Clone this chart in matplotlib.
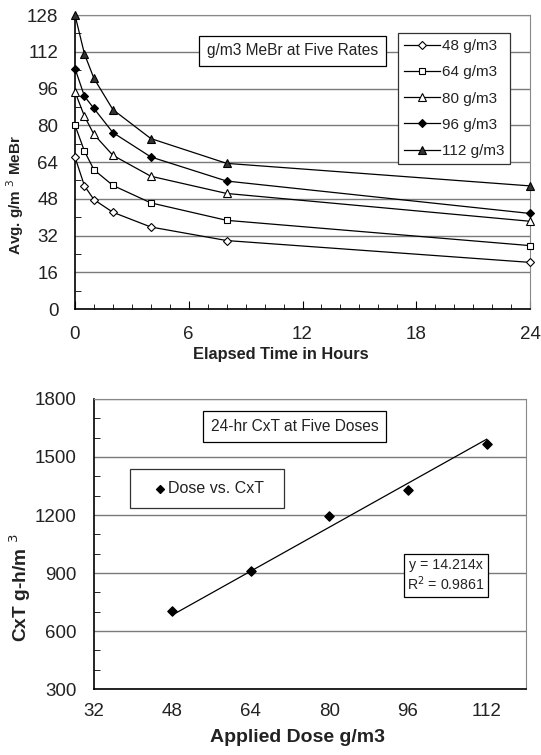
import numpy as np
import matplotlib.pyplot as plt
from matplotlib.ticker import MultipleLocator
from matplotlib.patches import Rectangle

plt.rcParams['font.family'] = ['Liberation Sans', 'DejaVu Sans']

# top chart: concentration over time
hours = [0, 0.5, 1, 2, 4, 8, 24]
rate_labels = ["48 g/m3", "64 g/m3", "80 g/m3", "96 g/m3", "112 g/m3"]
conc_48 = [66.1, 53.6, 47.6, 42.1, 35.7, 29.8, 20.3]
conc_64 = [80.0, 68.7, 60.6, 53.8, 46.2, 38.6, 27.6]
conc_80 = [94.5, 83.9, 76.0, 66.9, 57.8, 50.3, 38.2]
conc_96 = [104.7, 92.6, 87.3, 76.8, 66.2, 55.7, 41.6]
conc_112 = [128.0, 111.0, 100.4, 86.8, 74.2, 63.4, 53.6]

# bottom chart: dose vs CxT
doses = [48, 64, 80, 96, 112]
cxt = [703, 911, 1197, 1331, 1566]
trend_slope = 14.214
trend_r2 = 0.9861

TXT = '#222222'
GRID = '#7a7a7a'

fig = plt.figure(figsize=(5.41, 7.55), dpi=100)

# ---------------- top panel ----------------
ax1 = fig.add_axes([75/541, 1-309/755, 455/541, 294/755])
styles = [dict(marker='D', ms=4.5, mfc='white'),
          dict(marker='s', ms=5, mfc='white'),
          dict(marker='^', ms=6, mfc='white'),
          dict(marker='D', ms=4.5, mfc='black'),
          dict(marker='^', ms=6, mfc='#333333')]
for series, lab, st in zip([conc_48, conc_64, conc_80, conc_96, conc_112], rate_labels, styles):
    ax1.plot(hours, series, color='black', lw=0.9, mec='black', mew=0.8,
             label=lab, clip_on=False, zorder=3, **st)

ax1.set_xlim(0, 24)
ax1.set_ylim(0, 128)
ax1.xaxis.set_major_locator(MultipleLocator(6))
ax1.xaxis.set_minor_locator(MultipleLocator(1))
ax1.yaxis.set_major_locator(MultipleLocator(16))
ax1.yaxis.set_minor_locator(MultipleLocator(8))
ax1.yaxis.grid(True, color=GRID, lw=1)
ax1.set_axisbelow(True)
ax1.tick_params(axis='both', which='both', direction='in', colors='black',
                labelcolor=TXT, labelsize=13.5)
ax1.tick_params(axis='x', which='major', length=6, pad=12)
ax1.tick_params(axis='x', which='minor', length=3.5)
ax1.tick_params(axis='y', which='major', length=0, pad=12)
ax1.tick_params(axis='y', which='minor', length=4)
for s in ['top', 'right']:
    ax1.spines[s].set_color('#888888')
for s in ['left', 'bottom']:
    ax1.spines[s].set_color('black')
    ax1.spines[s].set_linewidth(1.2)

fig.text(281/541, 1-354/755, "Elapsed Time in Hours", ha='center', va='center',
         fontsize=11.8, fontweight='bold', color=TXT)
fig.text(15/541, 1-195/755, r"Avg. g/m $^{3}$ MeBr", ha='center', va='center',
         rotation=90, fontsize=11, fontweight='bold', color=TXT)

ax1.text(292.5/541, 1-51/755, "g/m3 MeBr at Five Rates", transform=fig.transFigure,
         ha='center', va='center', fontsize=11.2, color=TXT,
         bbox=dict(boxstyle='square,pad=0.5', fc='white', ec='black', lw=0.9))

leg1 = ax1.legend(loc='upper left', bbox_to_anchor=(398/541, 1-33/755),
                  bbox_transform=fig.transFigure, fontsize=11, frameon=True,
                  fancybox=False, edgecolor='#333333', framealpha=1,
                  handlelength=2.35, handletextpad=0.12, labelspacing=0.8,
                  borderpad=0.4, borderaxespad=0)
leg1.get_frame().set_linewidth(0.9)
for t in leg1.get_texts():
    t.set_color(TXT)

# ---------------- bottom panel ----------------
ax2 = fig.add_axes([93.5/541, 1-689/755, 432.5/541, 290/755])
ax2.scatter(doses, cxt, marker='D', s=22, color='black', zorder=3,
            label="Dose vs. CxT")
x_fit = np.array([min(doses), max(doses)])
ax2.plot(x_fit, trend_slope * x_fit, color='black', lw=0.9, zorder=2)

ax2.set_xlim(32, 120)
ax2.set_ylim(300, 1800)
ax2.set_xticks([32, 48, 64, 80, 96, 112])
ax2.yaxis.set_major_locator(MultipleLocator(300))
ax2.yaxis.set_minor_locator(MultipleLocator(100))
ax2.yaxis.grid(True, color=GRID, lw=1)
ax2.set_axisbelow(True)
ax2.tick_params(axis='both', which='both', direction='in', colors='black',
                labelcolor=TXT, labelsize=13.5)
ax2.tick_params(axis='x', which='major', length=0, pad=10)
ax2.tick_params(axis='y', which='major', length=0, pad=12)
ax2.tick_params(axis='y', which='minor', length=4)
for s in ['top', 'right']:
    ax2.spines[s].set_color('#888888')
for s in ['left', 'bottom']:
    ax2.spines[s].set_color('black')
    ax2.spines[s].set_linewidth(1.2)

fig.text(298/541, 1-738/755, "Applied Dose g/m3", ha='center', va='center',
         fontsize=14, fontweight='bold', color=TXT)
fig.text(20/541, 1-588/755, r"CxT g-h/m $^{3}$", ha='center', va='center',
         rotation=90, fontsize=13.8, fontweight='bold', color=TXT)

ax2.text(294.5/541, 1-426.5/755, "24-hr CxT at Five Doses", transform=fig.transFigure,
         ha='center', va='center', fontsize=11.2, color=TXT,
         bbox=dict(boxstyle='square,pad=0.5', fc='white', ec='black', lw=0.9))
ax2.text(446/541, 1-575.5/755, f"y = {trend_slope}x\nR$^2$ = {trend_r2}",
         transform=fig.transFigure, ha='center', va='center', fontsize=10.2,
         color=TXT, linespacing=1.2,
         bbox=dict(boxstyle='square,pad=0.25', fc='white', ec='black', lw=0.9))

# legend frame drawn separately so its size matches the original box
ax2.add_patch(Rectangle((130/541, 1-508/755), 154/541, 39/755,
                        transform=fig.transFigure, fc='white', ec='#333333',
                        lw=0.9, zorder=4, clip_on=False))
leg2 = ax2.legend(loc='center left', bbox_to_anchor=(152/541, 1-488.5/755),
                  bbox_transform=fig.transFigure, fontsize=11.5, frameon=False,
                  handlelength=1.0, handletextpad=0.0, borderpad=0,
                  borderaxespad=0, markerscale=0.85)
leg2.set_zorder(6)
for t in leg2.get_texts():
    t.set_color(TXT)

fig.savefig("out.png", dpi=100)
